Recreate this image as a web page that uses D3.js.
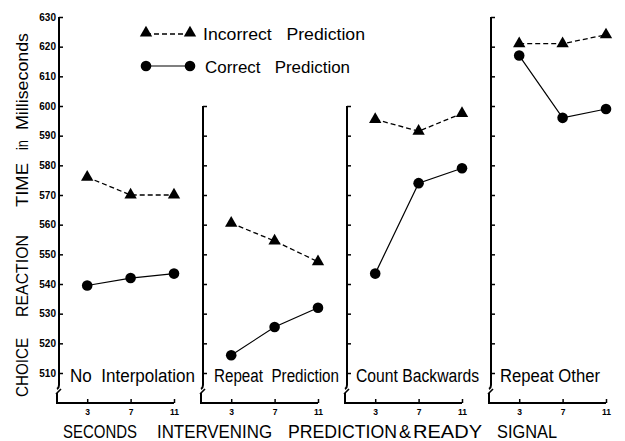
<!DOCTYPE html>
<html>
<head>
<meta charset="utf-8">
<script src="https://cdn.jsdelivr.net/npm/d3@7"></script>
<style>
  body { margin: 0; background: #fff; }
  svg { display: block; font-family: "Liberation Sans", Arial, sans-serif; }
  text { white-space: pre; }
</style>
</head>
<body>
<svg id="chart"></svg>
<script>
// data
var conditions = ["No  Interpolation", "Repeat  Prediction", "Count Backwards", "Repeat Other"];
var seconds = [3, 7, 11];
var incorrect = [
  [576, 570, 570],
  [560.5, 554.5, 547.5],
  [595.5, 591.5, 597.5],
  [621, 621, 624]
];
var correct = [
  [539.5, 542, 543.5],
  [516, 525.5, 532],
  [543.5, 574, 579],
  [617, 596, 599]
];
var yTicks = [510, 520, 530, 540, 550, 560, 570, 580, 590, 600, 610, 620, 630];
var panelTop = [630, 600, 600, 630];
var xWords = ["SECONDS", "INTERVENING", "PREDICTION", "&", "READY", "SIGNAL"];
var yWords = ["CHOICE", "REACTION", "TIME", "in", "Milliseconds"];

var width = 625, height = 441;
var svg = d3.select("#chart").attr("width", width).attr("height", height);

var y = d3.scaleLinear().domain([510, 630]).range([373, 17]);
var panelX = d3.scaleLinear().domain([0, 3]).range([59, 491]);
var x = d3.scaleLinear().domain([0.4, 11]).range([0, 115]);
var axisY = 403;

var labelOffset = [11, 11, 9, 9];
var labelLen = [125, 125, 123, 100];

conditions.forEach(function (name, p) {
  var g = svg.append("g").attr("transform", "translate(" + panelX(p) + ",0)");

  // vertical axis with break
  g.append("path")
    .attr("d", "M0," + y(panelTop[p]) + "L0,385Q0,388 -2,389")
    .attr("fill", "none").attr("stroke", "#000").attr("stroke-width", 2);
  g.append("path")
    .attr("d", "M-3,394L2,389")
    .attr("fill", "none").attr("stroke", "#000").attr("stroke-width", 1.6);
  g.append("path")
    .attr("d", "M-2,393L-2," + axisY + "L" + x(11) + "," + axisY)
    .attr("fill", "none").attr("stroke", "#000").attr("stroke-width", 2);

  // y ticks
  var ya = (p === 0 ? d3.axisLeft(y) : d3.axisLeft(y).tickFormat(""))
    .tickValues(yTicks.filter(function (t) { return t <= panelTop[p]; }))
    .tickSizeInner(-4).tickSizeOuter(0).tickPadding(3);
  var yg = g.append("g").call(ya);
  yg.select(".domain").remove();
  yg.selectAll("line").attr("stroke", "#000").attr("stroke-width", 1.5);
  yg.selectAll("text")
    .attr("font-size", 10).attr("font-weight", "bold")
    .attr("font-family", "Liberation Sans, Arial, sans-serif")
    .attr("fill", "#000");

  // x ticks
  var xa = d3.axisBottom(x).tickValues(seconds)
    .tickSizeInner(-4).tickSizeOuter(0).tickPadding(6);
  var xg = g.append("g").attr("transform", "translate(0," + axisY + ")").call(xa);
  xg.select(".domain").remove();
  xg.selectAll("line").attr("stroke", "#000").attr("stroke-width", 1.5);
  xg.selectAll("text")
    .attr("font-size", 8.5).attr("font-weight", "bold")
    .attr("font-family", "Liberation Sans, Arial, sans-serif")
    .attr("fill", "#000");

  // lines
  var line = d3.line()
    .x(function (d, i) { return x(seconds[i]); })
    .y(function (d) { return y(d); });
  g.append("path").datum(incorrect[p]).attr("d", line)
    .attr("fill", "none").attr("stroke", "#000").attr("stroke-width", 1.3)
    .attr("stroke-dasharray", "5,3");
  g.append("path").datum(correct[p]).attr("d", line)
    .attr("fill", "none").attr("stroke", "#000").attr("stroke-width", 1.2);

  // markers
  g.selectAll(".tri").data(incorrect[p]).enter().append("path")
    .attr("class", "tri")
    .attr("d", d3.symbol(d3.symbolTriangle, 66))
    .attr("transform", function (d, i) { return "translate(" + x(seconds[i]) + "," + y(d) + ")"; })
    .attr("fill", "#000");
  g.selectAll(".dot").data(correct[p]).enter().append("circle")
    .attr("class", "dot")
    .attr("cx", function (d, i) { return x(seconds[i]); })
    .attr("cy", function (d) { return y(d); })
    .attr("r", 5.3)
    .attr("fill", "#000");

  // panel label
  g.append("text")
    .attr("x", labelOffset[p]).attr("y", 382)
    .attr("font-size", 18)
    .attr("textLength", labelLen[p]).attr("lengthAdjust", "spacingAndGlyphs")
    .text(name);
});

// legend
var leg = svg.append("g");
leg.append("line").attr("x1", 146).attr("x2", 190).attr("y1", 34).attr("y2", 34)
  .attr("stroke", "#000").attr("stroke-width", 1.3).attr("stroke-dasharray", "5,3");
leg.selectAll(".ltri").data([146, 190]).enter().append("path")
  .attr("d", d3.symbol(d3.symbolTriangle, 66))
  .attr("transform", function (d) { return "translate(" + d + ",33)"; })
  .attr("fill", "#000");
leg.append("text").attr("x", 203).attr("y", 40).attr("font-size", 17)
  .attr("textLength", 162).attr("lengthAdjust", "spacingAndGlyphs")
  .text("Incorrect   Prediction");
leg.append("line").attr("x1", 146).attr("x2", 190).attr("y1", 66).attr("y2", 66)
  .attr("stroke", "#000").attr("stroke-width", 1.2);
leg.selectAll(".ldot").data([146, 190]).enter().append("circle")
  .attr("cx", function (d) { return d; }).attr("cy", 66).attr("r", 5.3)
  .attr("fill", "#000");
leg.append("text").attr("x", 205).attr("y", 73).attr("font-size", 17)
  .attr("textLength", 145).attr("lengthAdjust", "spacingAndGlyphs")
  .text("Correct   Prediction");

// x title, word by word
var xPos = [[63, 74], [157, 115], [288, 109], [399, 12], [413, 69], [497, 60]];
svg.selectAll(".xw").data(xWords).enter().append("text")
  .attr("x", function (d, i) { return xPos[i][0]; })
  .attr("y", 438)
  .attr("font-size", 18)
  .attr("textLength", function (d, i) { return xPos[i][1]; })
  .attr("lengthAdjust", "spacingAndGlyphs")
  .text(function (d) { return d; });

// y title, word by word (bottom to top)
var yPos = [[397, 59], [317, 82], [207, 44], [150, 10], [130, 97]];
svg.selectAll(".yw").data(yWords).enter().append("text")
  .attr("transform", function (d, i) { return "translate(28," + yPos[i][0] + ") rotate(-90)"; })
  .attr("font-size", 16)
  .attr("textLength", function (d, i) { return yPos[i][1]; })
  .attr("lengthAdjust", "spacingAndGlyphs")
  .text(function (d) { return d; });
</script>
</body>
</html>
